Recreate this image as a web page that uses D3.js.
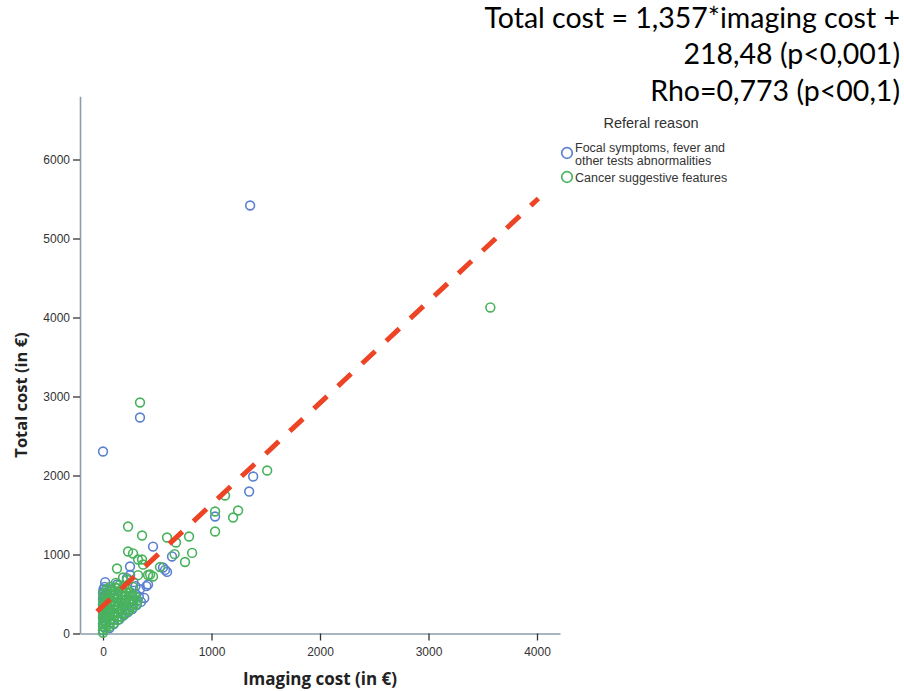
<!DOCTYPE html>
<html>
<head>
<meta charset="utf-8">
<script src="https://cdn.jsdelivr.net/npm/d3@7/dist/d3.min.js"></script>
<style>
  html, body { margin: 0; padding: 0; background: #ffffff; }
  svg { display: block; }
</style>
</head>
<body>
<svg id="chart" width="904" height="691"></svg>
<script>
// ---------------- DATA ----------------
const seriesNames = ["Focal symptoms, fever and|other tests abnormalities", "Cancer suggestive features"];
const legendTitle = "Referal reason";
const xTicks = [0, 1000, 2000, 3000, 4000];
const yTicks = [0, 1000, 2000, 3000, 4000, 5000, 6000];
const xLabel = "Imaging cost (in €)";
const yLabel = "Total cost (in €)";
const titleLines = ["Total cost = 1,357*imaging cost +", "218,48 (p<0,001)", "Rho=0,773 (p<00,1)"];

// Focal symptoms (blue) : imaging cost / total cost
const focalImaging = [0,5,0,10,0,8,0,12,0,6,0,10,0,5,15,20,
  60,100,150,190,230,270,310,350,380,330,300,340,400,415,250,220,280,140,180,120,200,260,160,90,50,80,130,300,
  249,461,553,572,590,636,1033,1347,1384,341,0,1356];
const focalTotal = [40,80,120,160,200,240,280,320,360,400,440,480,520,560,590,650,
  70,120,180,230,270,310,360,400,450,470,500,560,600,620,740,700,650,460,520,330,420,400,280,250,480,560,620,600,
  848,1100,835,805,780,975,1481,1797,1987,2734,2304,5418];

// Cancer suggestive features (green) : imaging cost / total cost
const cancerImaging = [0,0,2,0,5,0,3,0,6,0,4,8,0,
  25,30,28,35,30,32,27,35,30,28,33,30,
  60,65,70,62,68,66,64,70,60,67,72,65,
  100,98,105,102,96,104,100,108,95,103,110,118,
  135,140,132,138,136,142,130,138,145,133,150,
  170,175,168,172,178,165,174,170,180,
  205,210,200,208,215,202,210,220,
  240,245,238,250,242,255,
  275,280,285,270,310,320,300,
  221,185,323,434,526,129,277,360,323,369,461,415,231,277,360,231,590,673,660,793,821,756,1033,1033,1199,1245,1125,1513,341,3570];
const cancerTotal = [10,45,90,130,170,210,250,290,330,370,410,455,500,
  60,105,150,195,240,285,330,375,420,465,510,560,
  90,140,185,230,275,320,365,410,455,500,545,590,
  130,175,220,265,310,355,400,445,490,535,580,640,
  170,215,260,305,350,395,440,485,530,575,610,
  210,255,300,345,390,435,480,525,570,
  250,300,345,390,435,480,525,570,
  290,340,385,430,475,520,
  330,380,430,480,370,420,470,
  680,709,738,747,842,823,590,937,937,873,722,740,1038,1013,1240,1354,1215,1152,1005,1228,1020,905,1291,1544,1468,1557,1747,2063,2924,4127];

// Fitted line as drawn (imaging cost, total cost at its two ends)
const fitImaging = [-55, 4013];
const fitTotal = [278, 5506];

// ---------------- CHART ----------------
const svg = d3.select("#chart");
const blue = "#5b80d0";
const green = "#48b35c";

const x = d3.scaleLinear().domain([-212, 4212]).range([80, 560]);
const y = d3.scaleLinear().domain([0, 6800]).range([633.5, 96.3]);

// axes
const xAxis = svg.append("g").attr("transform", "translate(0,633.5)")
  .call(d3.axisBottom(x).tickValues(xTicks).tickSize(7).tickSizeOuter(0).tickFormat(d3.format("d")));
const yAxis = svg.append("g").attr("transform", "translate(80,0)")
  .call(d3.axisLeft(y).tickValues(yTicks).tickSize(7).tickSizeOuter(0).tickFormat(d3.format("d")));
[xAxis, yAxis].forEach(g => {
  g.select(".domain").attr("stroke", "#8a9eab").attr("stroke-width", 1.6);
  g.selectAll(".tick line").attr("stroke", "#333").attr("stroke-width", 1.3);
  g.selectAll(".tick text").attr("fill", "#333").attr("font-family", "Liberation Sans, Arial, sans-serif").attr("font-size", 12);
});
xAxis.selectAll(".tick text").attr("dy", "1.05em");
yAxis.selectAll(".tick text").attr("x", -10);

// axis titles
svg.append("text").attr("x", 320).attr("y", 685).attr("text-anchor", "middle")
  .attr("font-family", "Open Sans, sans-serif").attr("font-weight", 700).attr("font-size", 17)
  .attr("fill", "#222").text(xLabel);
svg.append("text").attr("transform", "translate(27,395) rotate(-90)").attr("text-anchor", "middle")
  .attr("font-family", "Open Sans, sans-serif").attr("font-weight", 700).attr("font-size", 16.5)
  .attr("fill", "#222").text(yLabel);

// points
const focal = focalImaging.map((v, i) => ({x: v, y: focalTotal[i]}));
const cancer = cancerImaging.map((v, i) => ({x: v, y: cancerTotal[i]}));
svg.append("g").selectAll("circle").data(focal).join("circle")
  .attr("cx", d => x(d.x)).attr("cy", d => y(d.y)).attr("r", 4.4)
  .attr("fill", "none").attr("stroke", blue).attr("stroke-width", 1.6);
svg.append("g").selectAll("circle").data(cancer).join("circle")
  .attr("cx", d => x(d.x)).attr("cy", d => y(d.y)).attr("r", 4.4)
  .attr("fill", "none").attr("stroke", green).attr("stroke-width", 1.6);

// fitted line
svg.append("line")
  .attr("x1", x(fitImaging[0])).attr("y1", y(fitTotal[0]))
  .attr("x2", x(fitImaging[1])).attr("y2", y(fitTotal[1]))
  .attr("stroke", "#ec4424").attr("stroke-width", 5).attr("stroke-dasharray", "18,15");

// legend
const lg = svg.append("g").attr("font-family", "Liberation Sans, Arial, sans-serif").attr("fill", "#333");
lg.append("text").attr("x", 651).attr("y", 128).attr("text-anchor", "middle").attr("font-size", 14.5).text(legendTitle);
const colors = [blue, green];
const itemY = [153, 177];
seriesNames.forEach((name, i) => {
  lg.append("circle").attr("cx", 567).attr("cy", itemY[i]).attr("r", 5.3)
    .attr("fill", "none").attr("stroke", colors[i]).attr("stroke-width", 1.7);
  const lines = name.split("|");
  lines.forEach((t, j) => {
    lg.append("text").attr("x", 575).attr("y", (i === 0 ? 151.5 : 182) + j * 13)
      .attr("font-size", 12.5).text(t);
  });
});

// annotation (top right)
const ann = svg.append("g").attr("font-family", "Lato, sans-serif").attr("font-size", 28.5).attr("fill", "#000").attr("text-anchor", "end");
const annY = [28, 64, 101];
titleLines.forEach((t, i) => ann.append("text").attr("x", 900).attr("y", annY[i]).text(t));
</script>
</body>
</html>
